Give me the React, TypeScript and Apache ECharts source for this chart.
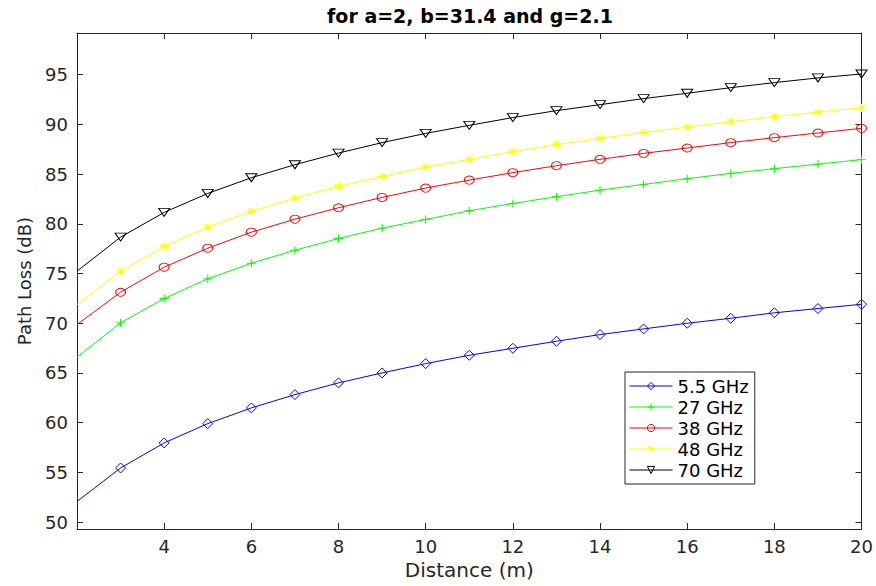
import React, { useEffect, useRef } from "react";
import * as echarts from "echarts";

const distances = [2, 3, 4, 5, 6, 7, 8, 9, 10, 11, 12, 13, 14, 15, 16, 17, 18, 19, 20];
const pl55 = [52.07, 55.44, 57.96, 59.9, 61.48, 62.82, 64.0, 65.0, 65.94, 66.78, 67.48, 68.19, 68.86, 69.43, 70.0, 70.5, 71.05, 71.48, 71.91];
const pl27 = [66.58, 70.04, 72.49, 74.47, 76.04, 77.35, 78.53, 79.57, 80.44, 81.32, 82.05, 82.73, 83.39, 83.97, 84.54, 85.08, 85.55, 86.01, 86.46];
const pl38 = [69.87, 73.12, 75.64, 77.55, 79.16, 80.47, 81.62, 82.66, 83.6, 84.4, 85.15, 85.85, 86.49, 87.09, 87.63, 88.17, 88.67, 89.14, 89.61];
const pl48 = [71.88, 75.24, 77.72, 79.67, 81.25, 82.59, 83.77, 84.77, 85.71, 86.49, 87.26, 87.97, 88.6, 89.2, 89.74, 90.28, 90.78, 91.25, 91.69];
const pl70 = [75.24, 78.66, 81.15, 83.06, 84.64, 85.95, 87.12, 88.17, 89.1, 89.91, 90.69, 91.39, 91.99, 92.6, 93.14, 93.7, 94.21, 94.68, 95.08];

const seriesNames = ["5.5 GHz", "27 GHz", "38 GHz", "48 GHz", "70 GHz"];
const seriesColors = ["#0000ff", "#00ff00", "#ff0000", "#ffff00", "#000000"];
const yTicks = [50, 55, 60, 65, 70, 75, 80, 85, 90, 95];

const TEXT = "#262626";
const FONT = "DejaVu Sans";

const symbols = [
  "diamond",
  "path://M0,5L10,5M5,0L5,10",
  "circle",
  "path://M5,0L5,10M0,5L10,5M1.5,1.5L8.5,8.5M8.5,1.5L1.5,8.5",
  "path://M0,0L10,0L5,8Z",
];
const symbolSizes: any[] = [[10, 10], [9, 8], [10, 8], [10, 8], [11, 8]];

export default function App() {
  const ref = useRef<HTMLDivElement>(null);
  useEffect(() => {
    if (!ref.current) return;
    const chart = echarts.init(ref.current, null, { renderer: "svg" });
    const allData = [pl55, pl27, pl38, pl48, pl70];
    const series = allData.map((vals, i) => ({
      name: seriesNames[i],
      type: "line",
      data: vals.map((v, j) =>
        j === 0 ? { value: [distances[j], v], symbol: "none" } : [distances[j], v]
      ),
      symbol: symbols[i],
      symbolSize: symbolSizes[i],
      showSymbol: true,
      lineStyle: { color: seriesColors[i], width: 1 },
      itemStyle: { color: "rgba(255,255,255,0)", borderColor: seriesColors[i], borderWidth: 1 },
      emphasis: { disabled: true },
      z: 2,
    }));
    const axisBase = {
      axisLine: { show: true, lineStyle: { color: TEXT, width: 1 } },
      splitLine: { show: false },
    };
    chart.setOption({
      animation: false,
      backgroundColor: "#ffffff",
      title: {
        text: "for a=2, b=31.4 and g=2.1",
        left: 470,
        top: 6,
        padding: 0,
        textAlign: "center",
        textStyle: { fontFamily: FONT, fontSize: 19, fontWeight: "bold", color: "#000" },
      },
      grid: { left: 77, right: 13, top: 33, bottom: 57, show: false },
      legend: {
        data: seriesNames,
        orient: "vertical",
        left: 625,
        top: 372,
        padding: [5, 6, 5, 4],
        itemWidth: 43,
        itemHeight: 9,
        itemGap: 3,
        backgroundColor: "#ffffff",
        borderColor: TEXT,
        borderWidth: 1,
        borderRadius: 0,
        lineStyle: { width: 1 },
        itemStyle: { borderWidth: 1 },
        textStyle: { fontFamily: FONT, fontSize: 18, color: "#000", lineHeight: 17, padding: [0, 0, 0, 0] },
        selectedMode: false,
      },
      xAxis: [
        {
          ...axisBase,
          type: "value",
          min: 2,
          max: 20,
          interval: 2,
          position: "bottom",
          name: "Distance (m)",
          nameLocation: "middle",
          nameGap: 31,
          nameTextStyle: { fontFamily: FONT, fontSize: 20, color: TEXT },
          axisTick: { show: true, inside: true, length: 6, lineStyle: { color: TEXT } },
          axisLabel: { showMinLabel: false, fontFamily: FONT, fontSize: 18, color: TEXT, margin: 8 },
        },
        {
          ...axisBase,
          type: "value",
          min: 2,
          max: 20,
          interval: 2,
          position: "top",
          axisTick: { show: true, inside: true, length: 6, lineStyle: { color: TEXT } },
          axisLabel: { show: false },
        },
      ],
      yAxis: [
        {
          ...axisBase,
          type: "value",
          min: 49.3,
          max: 99.2,
          position: "left",
          name: "Path Loss (dB)",
          nameLocation: "middle",
          nameGap: 44,
          nameTextStyle: { fontFamily: FONT, fontSize: 18, color: TEXT },
          axisTick: { show: true, inside: true, length: 6, lineStyle: { color: TEXT }, customValues: yTicks },
          axisLabel: { fontFamily: FONT, fontSize: 18, color: TEXT, margin: 9, customValues: yTicks },
        },
        {
          ...axisBase,
          type: "value",
          min: 49.3,
          max: 99.2,
          position: "right",
          axisTick: { show: true, inside: true, length: 6, lineStyle: { color: TEXT }, customValues: yTicks },
          axisLabel: { show: false, customValues: yTicks },
        },
      ],
      series,
    });
    return () => chart.dispose();
  }, []);
  return (
    <div
      ref={ref}
      style={{ position: "absolute", left: 0, top: 0, width: 876, height: 586, background: "#fff" }}
    />
  );
}
